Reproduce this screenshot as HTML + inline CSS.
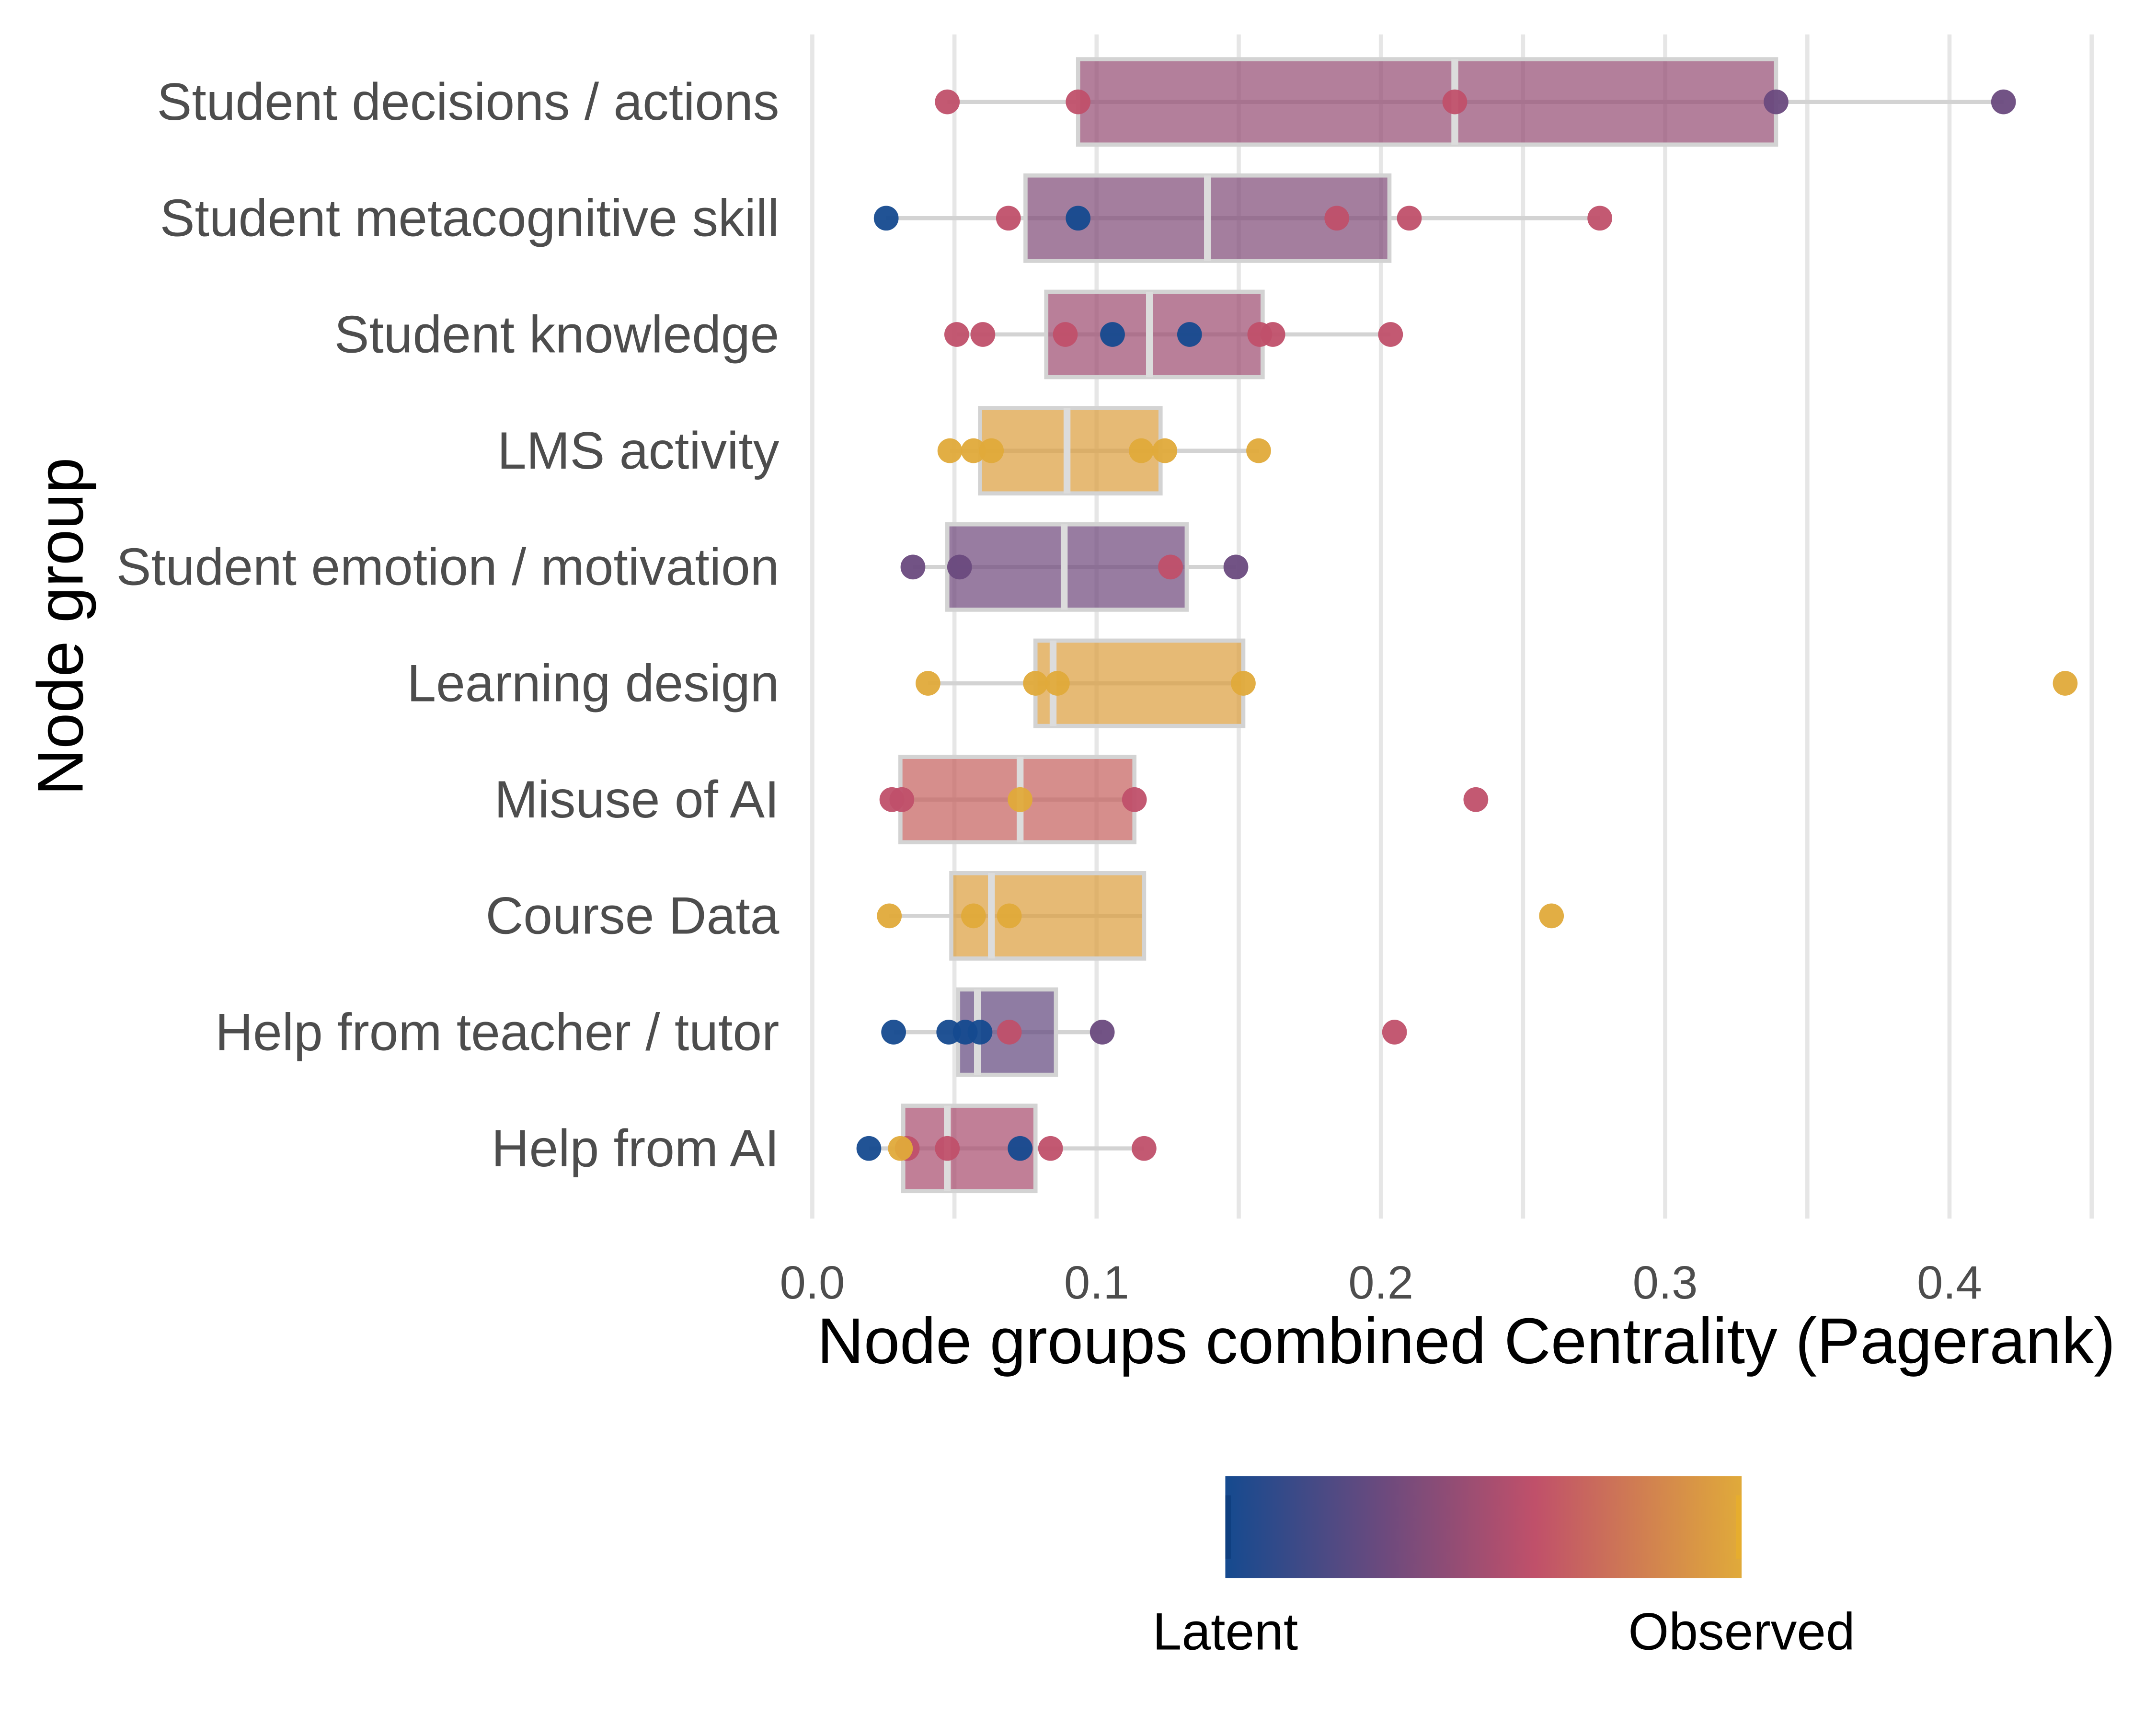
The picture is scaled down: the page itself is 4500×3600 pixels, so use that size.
<!DOCTYPE html>
<html><head><meta charset="utf-8">
<style>html,body{margin:0;padding:0;background:#fff}svg{display:block}</style></head>
<body>
<svg id="chart" width="4500" height="3600" viewBox="0 0 1566 1252.8" xmlns="http://www.w3.org/2000/svg" font-family="Liberation Sans, sans-serif">
<defs>
<linearGradient id="lg" x1="0" x2="1" y1="0" y2="0">
<stop offset="0" stop-color="#154a8f"/><stop offset="0.3" stop-color="#6a4a7e"/><stop offset="0.6" stop-color="#c0506a"/><stop offset="1" stop-color="#e0aa3a"/>
</linearGradient>
</defs>
<g id="grid"></g><g id="marks"></g><g id="labels"></g>
<text x="1065" y="990" font-size="47" text-anchor="middle" fill="#000">Node groups combined Centrality (Pagerank)</text>
<text transform="translate(60,455) rotate(-90)" font-size="47" text-anchor="middle" fill="#000">Node group</text>
<g>
<rect x="890" y="1072" width="375" height="74" fill="url(#lg)"/>
<rect x="890" y="1086" width="4" height="46" fill="#0f3f80"/>
<rect x="1261" y="1086" width="4" height="46" fill="#e6ad2e"/>
<text x="890" y="1198" font-size="38" text-anchor="middle" fill="#000">Latent</text>
<text x="1265" y="1198" font-size="38" text-anchor="middle" fill="#000">Observed</text>
</g>
</svg>
<script>
const categories=["Student decisions / actions","Student metacognitive skill","Student knowledge","LMS activity","Student emotion / motivation","Learning design","Misuse of AI","Course Data","Help from teacher / tutor","Help from AI"];
const q1=[0.0935,0.075,0.0823,0.059,0.0475,0.0785,0.031,0.0489,0.0513,0.032];
const med=[0.226,0.139,0.1186,0.0896,0.0886,0.0847,0.0731,0.063,0.0581,0.0475];
const q3=[0.339,0.203,0.1584,0.1225,0.1317,0.1516,0.1133,0.1167,0.0857,0.0785];
const wLo=[0.0475,0.026,0.0508,0.0484,0.0354,0.0407,0.028,0.0271,0.0286,0.0199];
const wHi=[0.419,0.277,0.2034,0.157,0.149,0.1516,0.1133,0.1167,0.102,0.1167];
const boxType=[0.45,0.38,0.48,0.95,0.32,0.95,0.68,0.95,0.28,0.52];
const pointVals=[[0.0475,0.0935,0.226,0.339,0.419],[0.026,0.069,0.0935,0.1845,0.21,0.277],[0.0508,0.06,0.089,0.1056,0.1327,0.1574,0.162,0.2034],[0.0484,0.0567,0.063,0.1157,0.124,0.157],[0.0354,0.0518,0.126,0.149],[0.0407,0.0785,0.0862,0.1516,0.4407],[0.028,0.0315,0.0731,0.1133,0.2334],[0.0271,0.0567,0.0693,0.26],[0.0286,0.048,0.0538,0.059,0.0693,0.102,0.2048],[0.0199,0.0334,0.031,0.0475,0.0731,0.0838,0.1167]];
const pointType=[[0.6,0.6,0.6,0.3,0.3],[0,0.6,0,0.6,0.6,0.6],[0.6,0.6,0.6,0,0,0.6,0.6,0.6],[1,1,1,1,1,1],[0.3,0.3,0.6,0.3],[1,1,1,1,1],[0.6,0.6,1,0.6,0.6],[1,1,1,1],[0,0,0,0,0.6,0.3,0.6],[0,0.6,1,0.6,0,0.6,0.6]];
const xTicks=[0,0.1,0.2,0.3,0.4];
const xTickLabels=["0.0","0.1","0.2","0.3","0.4"];
const xMinor=[0.05,0.15,0.25,0.35,0.45];

const NS="http://www.w3.org/2000/svg";
const X=v=>590+v*2065;
const Y=i=>74+i*84.45;
const stops=[[0,[21,74,143]],[0.3,[106,74,126]],[0.6,[192,80,106]],[1,[224,170,58]]];
function col(t){for(let k=1;k<stops.length;k++){if(t<=stops[k][0]){const a=stops[k-1],b=stops[k];const f=(t-a[0])/(b[0]-a[0]);return "rgb("+a[1].map((c,j)=>Math.round(c+(b[1][j]-c)*f)).join(",")+")";}}return "rgb(224,170,58)";}
function mk(tag,attrs,parent){const e=document.createElementNS(NS,tag);for(const k in attrs)e.setAttribute(k,attrs[k]);parent.appendChild(e);return e;}
const grid=document.getElementById('grid'),marks=document.getElementById('marks'),labels=document.getElementById('labels');
xTicks.concat(xMinor).forEach(v=>{
const l=mk('line',{x1:X(v),x2:X(v),y1:25,y2:885,stroke:'#e6e6e6','stroke-width':3},grid);


});
xTicks.forEach((v,i)=>{
const t=mk('text',{x:X(v),y:943,'font-size':34,'text-anchor':'middle',fill:'#4d4d4d'},labels);
t.textContent=xTickLabels[i];


});
categories.forEach((c,i)=>{
const y=Y(i);
const t=mk('text',{x:566,y:y+13,'font-size':38,'text-anchor':'end',fill:'#4d4d4d'},labels);
t.textContent=c;


const w=mk('line',{x1:X(wLo[i]),x2:X(wHi[i]),y1:y,y2:y,stroke:'#d3d3d3','stroke-width':3},marks);


const b=mk('rect',{x:X(q1[i]),y:y-31,width:X(q3[i])-X(q1[i]),height:62,fill:col(boxType[i]),'fill-opacity':0.72,stroke:'#d3d3d3','stroke-width':3},marks);


const m=mk('line',{x1:X(med[i]),x2:X(med[i]),y1:y-31,y2:y+31,stroke:'#dcdcdc','stroke-width':5},marks);


pointVals[i].forEach((v,j)=>{
const p=mk('circle',{cx:X(v),cy:y,r:9,fill:col(pointType[i][j]),'fill-opacity':0.95},marks);


});
});
</script>
</body></html>
